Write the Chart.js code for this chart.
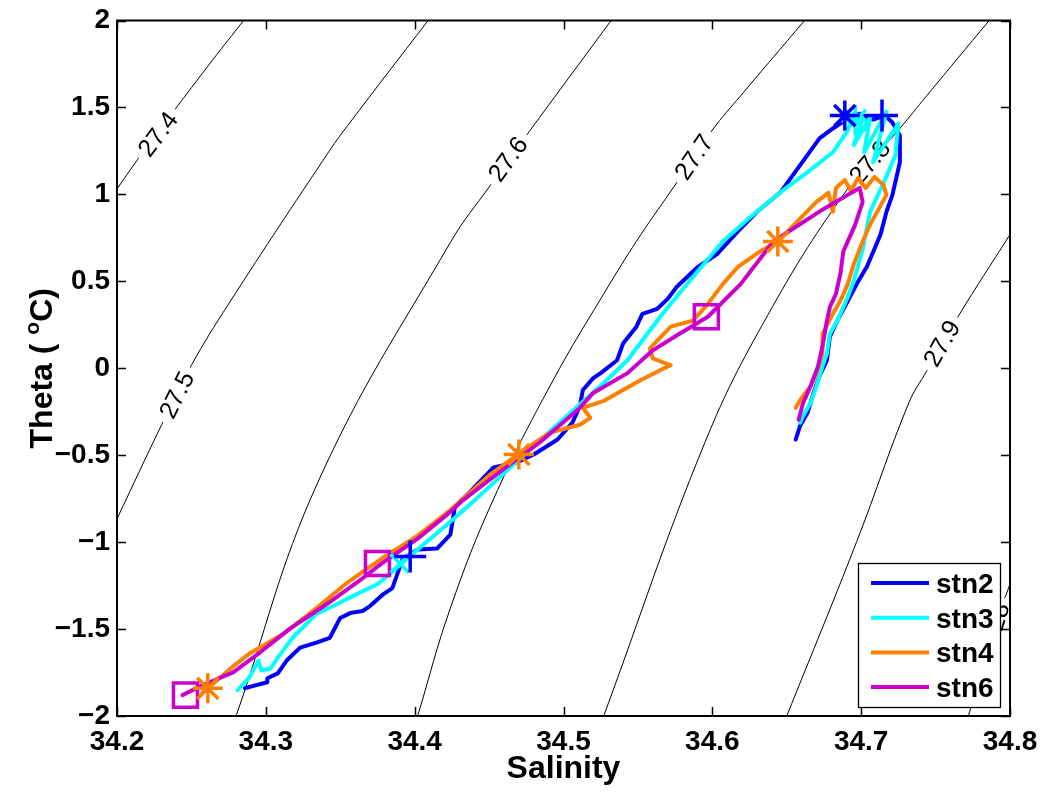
<!DOCTYPE html>
<html>
<head>
<meta charset="utf-8">
<title>Theta-Salinity diagram</title>
<script src="https://cdn.jsdelivr.net/npm/chart.js@4.4.1/dist/chart.umd.min.js"></script>
<style>
html,body{margin:0;padding:0;background:#ffffff;overflow:hidden;}
canvas{display:block;}
</style>
</head>
<body>
<canvas id="ts" width="1042" height="793"></canvas>
<script>
// ---------------- axis ticks / titles ----------------
const xTickValues = [34.2, 34.3, 34.4, 34.5, 34.6, 34.7, 34.8];
const yTickValues = [-2, -1.5, -1, -0.5, 0, 0.5, 1, 1.5, 2];
const xTitle = 'Salinity';
const yTitleParts = ['Theta ( ', 'o', 'C)'];

// ---------------- station series (Salinity, Theta) ----------------
const seriesNames = ['stn2', 'stn3', 'stn4', 'stn6'];

const stn2S = [34.286,34.301,34.301,34.308,34.314,34.323,34.334,34.343,34.350,34.357,34.365,34.370,34.379,34.385,34.389,34.392,34.402,34.415,34.424,34.427,34.437,34.453,34.469,34.480,34.496,34.506,34.511,34.513,34.520,34.525,34.536,34.540,34.549,34.553,34.563,34.570,34.576,34.590,34.603,34.617,34.630,34.646,34.659,34.672,34.681,34.691,34.699,34.708,34.716,34.721,34.726,34.726,34.721,34.717,34.713,34.704,34.697,34.691,34.684,34.679,34.677,34.672,34.668,34.664,34.659,34.656];
const stn2T = [-1.840,-1.806,-1.783,-1.755,-1.681,-1.607,-1.578,-1.550,-1.436,-1.407,-1.396,-1.368,-1.299,-1.265,-1.168,-1.094,-1.043,-1.037,-0.957,-0.798,-0.712,-0.570,-0.541,-0.496,-0.410,-0.313,-0.217,-0.125,-0.057,-0.028,0.046,0.142,0.239,0.313,0.342,0.399,0.467,0.581,0.655,0.786,0.900,1.014,1.168,1.322,1.379,1.436,1.464,1.430,1.453,1.413,1.339,1.185,0.997,0.900,0.769,0.587,0.484,0.387,0.274,0.182,0.046,-0.046,-0.142,-0.256,-0.330,-0.410];

const stn3S = [34.281,34.289,34.295,34.297,34.303,34.310,34.318,34.334,34.348,34.361,34.375,34.383,34.395,34.406,34.424,34.439,34.484,34.527,34.543,34.565,34.583,34.607,34.625,34.646,34.664,34.681,34.691,34.695,34.701,34.695,34.706,34.702,34.717,34.708,34.725,34.723,34.716,34.706,34.701,34.695,34.691,34.684,34.679,34.677,34.674,34.670,34.666,34.661,34.659];
const stn3T = [-1.852,-1.778,-1.681,-1.738,-1.727,-1.641,-1.550,-1.413,-1.356,-1.299,-1.242,-1.185,-1.094,-1.014,-0.883,-0.769,-0.416,-0.085,0.046,0.296,0.484,0.729,0.866,1.014,1.128,1.242,1.368,1.464,1.442,1.282,1.442,1.242,1.476,1.185,1.407,1.225,1.083,0.900,0.684,0.501,0.410,0.274,0.199,0.085,0.011,-0.103,-0.199,-0.274,-0.313];

const stn4S = [34.257,34.278,34.289,34.312,34.334,34.355,34.379,34.402,34.424,34.451,34.473,34.491,34.511,34.518,34.513,34.527,34.540,34.552,34.565,34.572,34.560,34.558,34.572,34.587,34.597,34.607,34.617,34.632,34.644,34.657,34.670,34.678,34.681,34.683,34.689,34.693,34.698,34.703,34.709,34.715,34.717,34.706,34.701,34.695,34.691,34.686,34.681,34.674,34.674,34.670,34.666,34.659,34.656];
const stn4T = [-1.869,-1.715,-1.641,-1.527,-1.379,-1.231,-1.088,-0.963,-0.815,-0.610,-0.473,-0.370,-0.325,-0.285,-0.228,-0.188,-0.125,-0.068,-0.011,0.017,0.057,0.114,0.239,0.274,0.370,0.484,0.581,0.672,0.729,0.843,0.957,1.009,0.900,1.037,1.083,1.020,1.094,1.037,1.100,1.054,0.997,0.826,0.729,0.598,0.484,0.387,0.313,0.199,0.085,-0.028,-0.103,-0.182,-0.228];

const stn6S = [34.244,34.256,34.278,34.296,34.316,34.341,34.365,34.377,34.402,34.424,34.431,34.457,34.484,34.511,34.520,34.543,34.560,34.576,34.597,34.619,34.641,34.674,34.691,34.699,34.701,34.696,34.688,34.686,34.683,34.679,34.677,34.674,34.671,34.666,34.661,34.658];
const stn6T = [-1.880,-1.829,-1.749,-1.635,-1.499,-1.356,-1.208,-1.128,-0.980,-0.826,-0.769,-0.598,-0.427,-0.228,-0.142,-0.028,0.103,0.188,0.296,0.484,0.729,0.912,0.997,1.037,0.957,0.826,0.672,0.541,0.427,0.353,0.274,0.125,0.011,-0.103,-0.199,-0.296];

// ---------------- depth markers ----------------
const stn2PlusS = [34.397, 34.714];  const stn2PlusT = [-1.083, 1.453];
const stn2StarS = [34.689];          const stn2StarT = [1.453];
const stn3StarS = [34.696];          const stn3StarT = [1.425];
const stn3XS    = [34.390];          const stn3XT    = [-1.123];
const stn4StarS = [34.261, 34.470, 34.644]; const stn4StarT = [-1.841, -0.496, 0.729];
const stn6BoxS  = [34.246, 34.375, 34.596]; const stn6BoxT  = [-1.880, -1.123, 0.296];

// ---------------- sigma-theta contours ----------------
const contourLevels = ['27.4', '27.5', '27.6', '27.7', '27.8', '27.9', '28'];
const c274S = [34.200, 34.214, 34.256, 34.285];
const c274T = [1.031, 1.202, 1.681, 2.000];
const c275S = [34.200, 34.230, 34.250, 34.275, 34.343, 34.355, 34.409];
const c275T = [-0.866, -0.325, 0.017, 0.370, 1.254, 1.396, 2.000];
const c276S = [34.280, 34.335, 34.424, 34.451, 34.476, 34.532];
const c276T = [-2.000, -0.655, 0.724, 1.054, 1.350, 2.000];
const c277S = [34.402, 34.424, 34.453, 34.492, 34.531, 34.552, 34.575, 34.600, 34.619, 34.662];
const c277T = [-2.000, -1.379, -0.752, -0.085, 0.484, 0.769, 1.054, 1.370, 1.567, 2.000];
const c278S = [34.527, 34.595, 34.637, 34.688, 34.726, 34.744, 34.786];
const c278T = [-2.000, -0.427, 0.302, 0.997, 1.379, 1.567, 2.000];
const c279S = [34.650, 34.697, 34.732, 34.744, 34.765, 34.800];
const c279T = [-2.000, -0.997, -0.199, -0.017, 0.296, 0.769];
const c280S = [34.772, 34.792, 34.800];
const c280T = [-2.000, -1.430, -1.242];
const contourLabelS = [34.2276, 34.2403, 34.4628, 34.5877, 34.7060, 34.7544, 34.7920];
const contourLabelT = [1.345, -0.154, 1.202, 1.214, 1.185, 0.142, -1.430];

// ---------------- styles ----------------
const FONT = '"Liberation Sans", Arial, Helvetica, sans-serif';
const seriesColors = ['#0000ff', '#00ffff', '#ff8000', '#cc00cc'];

const pts = (S, T) => S.map((s, i) => ({ x: s, y: T[i] }));

const contourS = [c274S, c275S, c276S, c277S, c278S, c279S, c280S];
const contourT = [c274T, c275T, c276T, c277T, c278T, c279T, c280T];

const datasets = [];
contourLevels.forEach((lev, i) => {
  datasets.push({
    label: 'sigma ' + lev, isContour: true, data: pts(contourS[i], contourT[i]),
    showLine: true, borderColor: '#000000', borderWidth: 1, pointRadius: 0,
    tension: 0.4, order: 10, fill: false
  });
});
const lineS = [stn2S, stn3S, stn4S, stn6S];
const lineT = [stn2T, stn3T, stn4T, stn6T];
seriesNames.forEach((n, i) => {
  datasets.push({
    label: n, data: pts(lineS[i], lineT[i]), showLine: true,
    borderColor: seriesColors[i], borderWidth: 4, pointRadius: 0, tension: 0,
    borderJoinStyle: 'round', borderCapStyle: 'round', order: 5 - i, fill: false
  });
});
function markerSet(S, T, style, color, r) {
  return { label: 'marker', data: pts(S, T), showLine: false, pointStyle: style,
    pointRadius: r, pointBorderColor: color, pointBackgroundColor: 'rgba(0,0,0,0)',
    pointBorderWidth: 3.5, order: 0 };
}
datasets.push(markerSet(stn2PlusS, stn2PlusT, 'cross', seriesColors[0], 16));
datasets.push(markerSet(stn2StarS, stn2StarT, 'star', seriesColors[0], 15));
datasets.push(markerSet(stn3StarS, stn3StarT, 'star', seriesColors[1], 15));
datasets.push(markerSet(stn3XS, stn3XT, 'crossRot', seriesColors[1], 13));
datasets.push(markerSet(stn4StarS, stn4StarT, 'star', seriesColors[2], 15));
datasets.push(markerSet(stn6BoxS, stn6BoxT, 'rect', seriesColors[3], 17));

// ---------------- drawing helpers ----------------
function drawContourLabels(chart) {
  const ctx = chart.ctx, xs = chart.scales.x, ys = chart.scales.y, ca = chart.chartArea;
  ctx.save();
  ctx.beginPath();
  ctx.rect(ca.left, ca.top, ca.right - ca.left, ca.bottom - ca.top);
  ctx.clip();
  ctx.font = '25px ' + FONT;
  contourLevels.forEach((txt, i) => {
    const px = xs.getPixelForValue(contourLabelS[i]);
    const py = ys.getPixelForValue(contourLabelT[i]);
    const S = contourS[i], T = contourT[i];
    let best = Infinity, ang = 0;
    for (let k = 0; k < S.length - 1; k++) {
      const x1 = xs.getPixelForValue(S[k]), y1 = ys.getPixelForValue(T[k]);
      const x2 = xs.getPixelForValue(S[k + 1]), y2 = ys.getPixelForValue(T[k + 1]);
      const dx = x2 - x1, dy = y2 - y1;
      let t = ((px - x1) * dx + (py - y1) * dy) / (dx * dx + dy * dy);
      t = Math.max(0, Math.min(1, t));
      const d = Math.hypot(px - (x1 + t * dx), py - (y1 + t * dy));
      if (d < best) { best = d; ang = Math.atan2(dy, dx); }
    }
    const w = ctx.measureText(txt).width;
    ctx.save();
    ctx.translate(px, py);
    ctx.rotate(ang);
    ctx.fillStyle = '#ffffff';
    ctx.fillRect(-w / 2 - 6, -13, w + 12, 26);
    ctx.fillStyle = '#000000';
    ctx.textAlign = 'center';
    ctx.textBaseline = 'middle';
    ctx.fillText(txt, 0, 1);
    ctx.restore();
  });
  ctx.restore();
}

function drawFrame(chart) {
  const ctx = chart.ctx, xs = chart.scales.x, ys = chart.scales.y, ca = chart.chartArea;
  ctx.save();
  ctx.strokeStyle = '#000000';
  ctx.lineWidth = 1.5;
  ctx.beginPath();
  xTickValues.forEach(v => {
    const x = Math.round(xs.getPixelForValue(v)) + 0.5;
    ctx.moveTo(x, ca.bottom); ctx.lineTo(x, ca.bottom - 9);
    ctx.moveTo(x, ca.top); ctx.lineTo(x, ca.top + 9);
  });
  yTickValues.forEach(v => {
    const y = Math.round(ys.getPixelForValue(v)) + 0.5;
    ctx.moveTo(ca.left, y); ctx.lineTo(ca.left + 9, y);
    ctx.moveTo(ca.right, y); ctx.lineTo(ca.right - 9, y);
  });
  ctx.stroke();
  ctx.lineWidth = 2;
  ctx.strokeRect(ca.left, ca.top, ca.right - ca.left, ca.bottom - ca.top);
  ctx.restore();
}

function drawLegend(chart) {
  const ctx = chart.ctx;
  const bx = 858.5, by = 563.5, bw = 142, bh = 144;
  ctx.save();
  ctx.fillStyle = '#ffffff';
  ctx.fillRect(bx, by, bw, bh);
  ctx.strokeStyle = '#000000';
  ctx.lineWidth = 1.3;
  ctx.strokeRect(bx, by, bw, bh);
  ctx.font = 'bold 28px ' + FONT;
  ctx.textAlign = 'left';
  ctx.textBaseline = 'alphabetic';
  seriesNames.forEach((n, i) => {
    const y = 583 + i * 34.7;
    ctx.strokeStyle = seriesColors[i];
    ctx.lineWidth = 4;
    ctx.beginPath(); ctx.moveTo(871, y); ctx.lineTo(929, y); ctx.stroke();
    ctx.fillStyle = '#000000';
    ctx.fillText(n, 936, y + 10);
  });
  ctx.restore();
}

function drawTitles(chart) {
  const ctx = chart.ctx, ca = chart.chartArea;
  ctx.save();
  ctx.fillStyle = '#000000';
  ctx.font = 'bold 32px ' + FONT;
  ctx.textAlign = 'center';
  ctx.textBaseline = 'alphabetic';
  ctx.fillText(xTitle, (ca.left + ca.right) / 2, 778);
  // y title with superscript
  const f1 = 'bold 32px ' + FONT, f2 = 'bold 21px ' + FONT;
  ctx.font = f1; const w1 = ctx.measureText(yTitleParts[0]).width;
  ctx.font = f2; const w2 = ctx.measureText(yTitleParts[1]).width;
  ctx.font = f1; const w3 = ctx.measureText(yTitleParts[2]).width;
  const tot = w1 + w2 + w3;
  ctx.translate(52, (ca.top + ca.bottom) / 2);
  ctx.rotate(-Math.PI / 2);
  ctx.textAlign = 'left';
  let x0 = -tot / 2;
  ctx.font = f1; ctx.fillText(yTitleParts[0], x0, 0);
  ctx.font = f2; ctx.fillText(yTitleParts[1], x0 + w1, -13);
  ctx.font = f1; ctx.fillText(yTitleParts[2], x0 + w1 + w2, 0);
  ctx.restore();
}

const tsPlugin = {
  id: 'tsDecor',
  beforeDatasetsDraw(chart) { chart.$labelsDone = false; },
  beforeDatasetDraw(chart, args) {
    const ds = chart.data.datasets[args.index];
    if (!ds.isContour && !chart.$labelsDone) { drawContourLabels(chart); chart.$labelsDone = true; }
  },
  afterDatasetsDraw(chart) {
    if (!chart.$labelsDone) { drawContourLabels(chart); chart.$labelsDone = true; }
    drawFrame(chart);
    drawLegend(chart);
  },
  afterDraw(chart) { drawTitles(chart); }
};

const fmtY = v => (v < 0 ? '\u2212' : '') + String(Math.abs(v));

new Chart(document.getElementById('ts'), {
  type: 'scatter',
  data: { datasets },
  options: {
    responsive: false, animation: false, devicePixelRatio: 1,
    layout: { padding: { top: 14, right: 32, left: 0, bottom: 0 } },
    plugins: { legend: { display: false }, tooltip: { enabled: false } },
    scales: {
      x: {
        type: 'linear', min: 34.2, max: 34.8,
        afterBuildTicks: s => { s.ticks = xTickValues.map(v => ({ value: v })); },
        afterFit: s => { s.height = 77; s.paddingLeft = 0; s.paddingRight = 0; },
        grid: { display: false, drawTicks: false },
        border: { display: false },
        ticks: { color: '#000', font: { family: FONT, size: 28, weight: 'bold' }, padding: 9,
                 maxRotation: 0, autoSkip: false, callback: v => Number(v).toFixed(1) }
      },
      y: {
        type: 'linear', min: -2, max: 2,
        afterBuildTicks: s => { s.ticks = yTickValues.map(v => ({ value: v })); },
        afterFit: s => { s.width = 117; s.paddingTop = 0; s.paddingBottom = 0; },
        grid: { display: false, drawTicks: false },
        border: { display: false },
        ticks: { color: '#000', font: { family: FONT, size: 28, weight: 'bold' }, padding: 7,
                 autoSkip: false, callback: v => fmtY(v) }
      }
    }
  },
  plugins: [tsPlugin]
});
</script>
</body>
</html>
